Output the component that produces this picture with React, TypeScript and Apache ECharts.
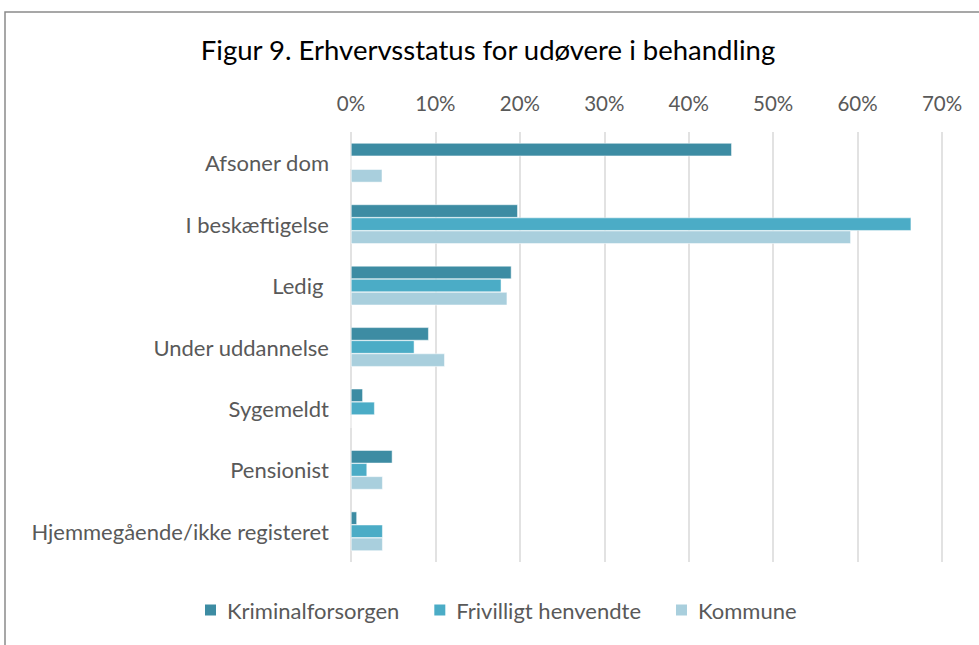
import React, { useEffect, useRef } from "react";
import * as echarts from "echarts";

const categories = [
  "Afsoner dom",
  "I beskæftigelse",
  "Ledig ",
  "Under uddannelse",
  "Sygemeldt",
  "Pensionist",
  "Hjemmegående/ikke registeret",
];
const kriminalforsorgen = [45.1, 19.75, 19.0, 9.2, 1.4, 4.9, 0.7];
const frivilligt = [0, 66.35, 17.8, 7.5, 2.8, 1.9, 3.75];
const kommune = [3.7, 59.2, 18.5, 11.1, 0, 3.75, 3.75];
const seriesNames = ["Kriminalforsorgen", "Frivilligt henvendte", "Kommune"];
const colors = ["#3d8ca3", "#4bacc6", "#a9cfdd"];

const FONT = "Lato, 'Open Sans', sans-serif";

export default function App() {
  const ref = useRef<HTMLDivElement>(null);
  useEffect(() => {
    const chart = echarts.init(ref.current!, null, { renderer: "svg" });
    const data = [kriminalforsorgen, frivilligt, kommune];
    chart.setOption({
      animation: false,
      backgroundColor: "#ffffff",
      title: {
        text: "Figur 9. Erhvervsstatus for udøvere i behandling",
        left: 483,
        textAlign: "center",
        top: 30,
        textStyle: { fontFamily: FONT, fontSize: 27.5, fontWeight: "normal", color: "#000000" },
      },
      graphic: [
        {
          type: "rect",
          shape: { x: 5, y: 12, width: 1000, height: 700 },
          style: { fill: "none", stroke: "#8a8a8a", lineWidth: 1.5 },
          silent: true,
        },
      ],
      legend: {
        data: seriesNames,
        bottom: 19,
        left: 198,
        itemWidth: 13,
        itemHeight: 13,
        itemGap: 33,
        icon: "rect",
        textStyle: { fontFamily: FONT, fontSize: 22, color: "#595959", padding: [0, 0, 0, 5] },
      },
      grid: { left: 351, right: 37, top: 132, bottom: 83, containLabel: false },
      xAxis: {
        type: "value",
        position: "top",
        min: 0,
        max: 70,
        interval: 10,
        axisLine: { show: false },
        axisTick: { show: false },
        axisLabel: {
          formatter: "{value}%",
          margin: 19,
          fontFamily: FONT,
          fontSize: 20.5,
          color: "#595959",
        },
        splitLine: { show: true, lineStyle: { color: "#d9d9d9", width: 1.5 } },
      },
      yAxis: {
        type: "category",
        data: categories,
        inverse: true,
        axisLine: { show: false },
        axisTick: { show: false },
        axisLabel: {
          margin: 22,
          fontFamily: FONT,
          fontSize: 22,
          color: "#595959",
        },
      },
      series: seriesNames.map((name, i) => ({
        name,
        type: "bar",
        data: data[i],
        barGap: "0%",
        barCategoryGap: "36%",
        itemStyle: { color: colors[i], borderColor: "#ffffff", borderWidth: 0.5 },
      })),
    });
    return () => chart.dispose();
  }, []);
  return (
    <div
      ref={ref}
      style={{ position: "fixed", left: 0, top: 0, width: 979, height: 645 }}
    />
  );
}
